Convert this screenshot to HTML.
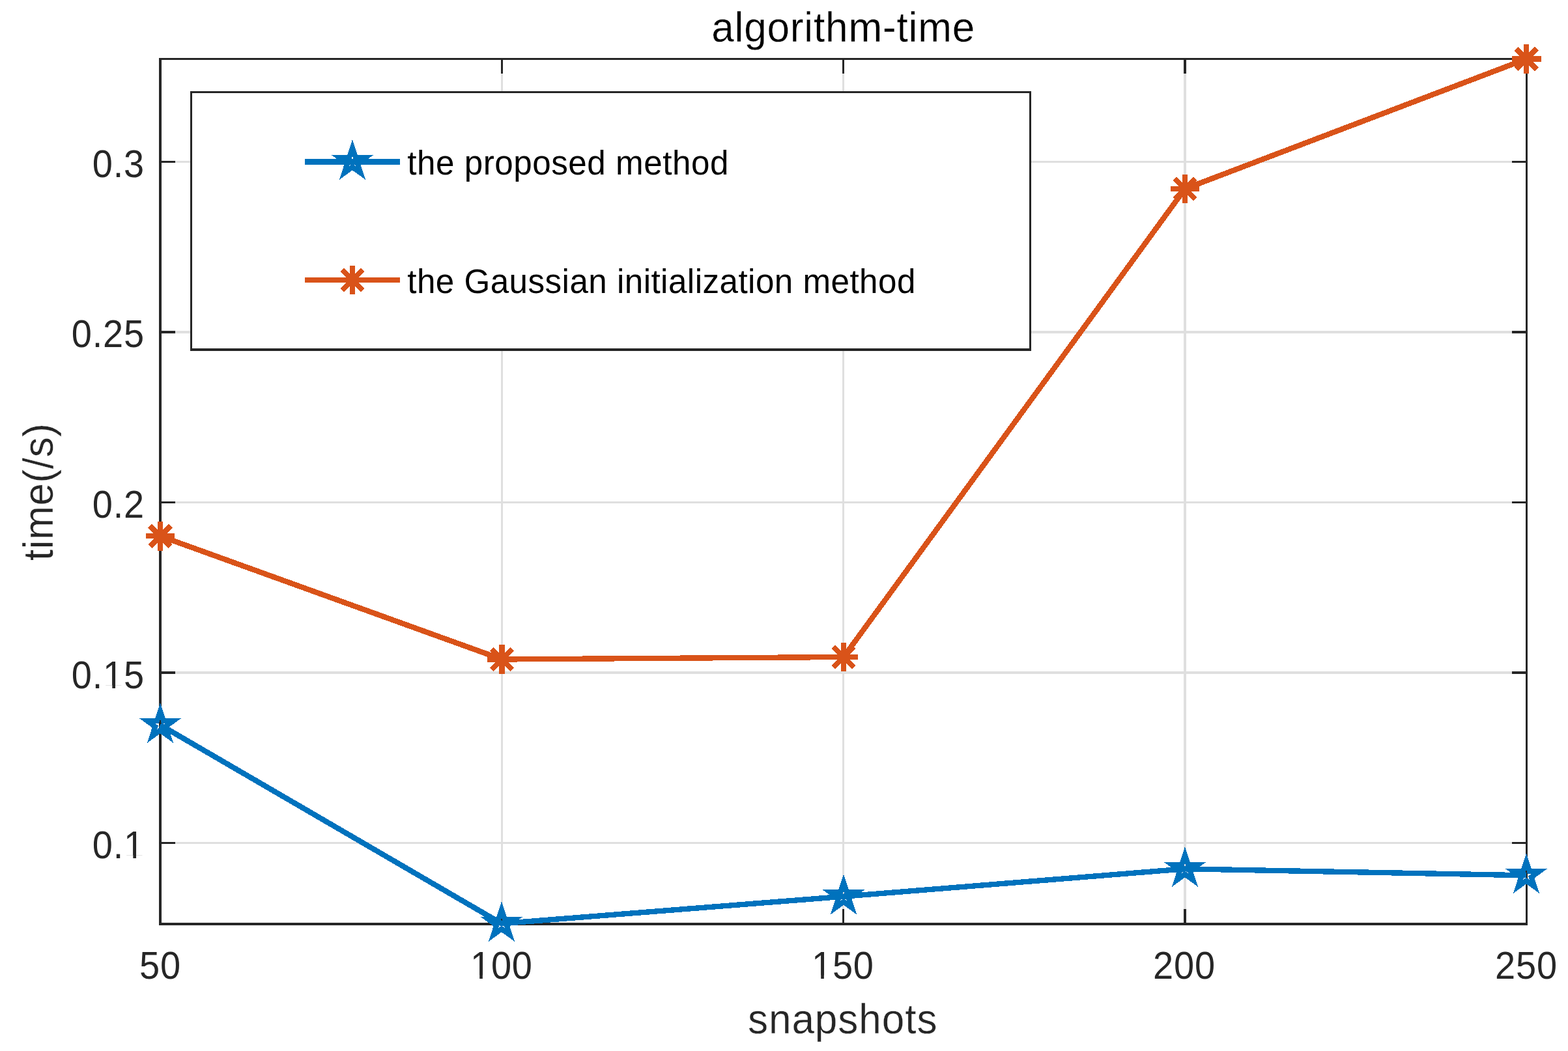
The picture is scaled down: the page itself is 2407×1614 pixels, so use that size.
<!DOCTYPE html>
<html lang="en"><head><meta charset="utf-8"><title>algorithm-time</title>
<style>html,body{margin:0;padding:0;background:#fff}body{width:2407px;height:1614px;overflow:hidden}svg{display:block}text{font-family:"Liberation Sans",sans-serif}</style></head><body>
<svg width="2407" height="1614" viewBox="0 0 2407 1614">
<rect width="2407" height="1614" fill="#fff"/>
<defs><clipPath id="cy0_15" clipPathUnits="userSpaceOnUse"><path clip-rule="evenodd" d="M-20 -80H400V40H-20Z M53.18 -4.96H65.15V3.00H53.18Z M70.00 -4.96H81.37V3.00H70.00Z"/></clipPath><clipPath id="cy0_1" clipPathUnits="userSpaceOnUse"><path clip-rule="evenodd" d="M-20 -80H400V40H-20Z M53.18 -4.96H65.15V3.00H53.18Z M70.00 -4.96H81.37V3.00H70.00Z"/></clipPath><clipPath id="cx100" clipPathUnits="userSpaceOnUse"><path clip-rule="evenodd" d="M-20 -80H400V40H-20Z M2.85 -4.96H14.82V3.00H2.85Z M19.67 -4.96H31.04V3.00H19.67Z"/></clipPath><clipPath id="cx150" clipPathUnits="userSpaceOnUse"><path clip-rule="evenodd" d="M-20 -80H400V40H-20Z M2.85 -4.96H14.82V3.00H2.85Z M19.67 -4.96H31.04V3.00H19.67Z"/></clipPath></defs>
<g shape-rendering="crispEdges">
<rect x="769" y="92" width="3" height="1325" fill="#dfdfdf"/>
<rect x="1293" y="92" width="3" height="1325" fill="#dfdfdf"/>
<rect x="1817" y="92" width="4" height="1325" fill="#dfdfdf"/>
<rect x="248" y="247" width="2094" height="3" fill="#dfdfdf"/>
<rect x="248" y="508" width="2094" height="4" fill="#dfdfdf"/>
<rect x="248" y="770" width="2094" height="3" fill="#dfdfdf"/>
<rect x="248" y="1031" width="2094" height="4" fill="#dfdfdf"/>
<rect x="248" y="1293" width="2094" height="3" fill="#dfdfdf"/>
<rect x="244" y="89" width="2101" height="3" fill="#262626"/>
<rect x="244" y="1417" width="2101" height="4" fill="#262626"/>
<rect x="244" y="89" width="4" height="1332" fill="#262626"/>
<rect x="2342" y="89" width="3" height="1332" fill="#262626"/>
<rect x="769" y="1396" width="3" height="21" fill="#262626"/>
<rect x="769" y="92" width="3" height="21" fill="#262626"/>
<rect x="1293" y="1396" width="3" height="21" fill="#262626"/>
<rect x="1293" y="92" width="3" height="21" fill="#262626"/>
<rect x="1817" y="1396" width="4" height="21" fill="#262626"/>
<rect x="1817" y="92" width="4" height="21" fill="#262626"/>
<rect x="248" y="247" width="21" height="3" fill="#262626"/>
<rect x="2321" y="247" width="21" height="3" fill="#262626"/>
<rect x="248" y="508" width="21" height="4" fill="#262626"/>
<rect x="2321" y="508" width="21" height="4" fill="#262626"/>
<rect x="248" y="770" width="21" height="3" fill="#262626"/>
<rect x="2321" y="770" width="21" height="3" fill="#262626"/>
<rect x="248" y="1031" width="21" height="4" fill="#262626"/>
<rect x="2321" y="1031" width="21" height="4" fill="#262626"/>
<rect x="248" y="1293" width="21" height="3" fill="#262626"/>
<rect x="2321" y="1293" width="21" height="3" fill="#262626"/>
</g>
<g shape-rendering="crispEdges">
<polyline points="246.00,823.20 770.50,1012.50 1295.00,1009.00 1819.00,290.00 2343.20,90.50" fill="none" stroke="#d95319" stroke-width="8.33" stroke-linejoin="round"/>
<polyline points="246.00,1113.30 770.00,1418.30 1295.00,1376.70 1819.00,1334.30 2343.00,1344.30" fill="none" stroke="#0072bd" stroke-width="8.33" stroke-linejoin="round"/>
<path d="M223.60 823.20 L268.40 823.20 M246.00 800.80 L246.00 845.60 M230.16 807.36 L261.84 839.04 M230.16 839.04 L261.84 807.36" fill="none" stroke="#d95319" stroke-width="8.33" stroke-linecap="butt"/>
<path d="M748.10 1012.50 L792.90 1012.50 M770.50 990.10 L770.50 1034.90 M754.66 996.66 L786.34 1028.34 M754.66 1028.34 L786.34 996.66" fill="none" stroke="#d95319" stroke-width="8.33" stroke-linecap="butt"/>
<path d="M1272.60 1009.00 L1317.40 1009.00 M1295.00 986.60 L1295.00 1031.40 M1279.16 993.16 L1310.84 1024.84 M1279.16 1024.84 L1310.84 993.16" fill="none" stroke="#d95319" stroke-width="8.33" stroke-linecap="butt"/>
<path d="M1796.60 290.00 L1841.40 290.00 M1819.00 267.60 L1819.00 312.40 M1803.16 274.16 L1834.84 305.84 M1803.16 305.84 L1834.84 274.16" fill="none" stroke="#d95319" stroke-width="8.33" stroke-linecap="butt"/>
<path d="M2320.80 90.50 L2365.60 90.50 M2343.20 68.10 L2343.20 112.90 M2327.36 74.66 L2359.04 106.34 M2327.36 106.34 L2359.04 74.66" fill="none" stroke="#d95319" stroke-width="8.33" stroke-linecap="butt"/>
<path d="M246.00 1091.90 L250.80 1106.69 L266.35 1106.69 L253.77 1115.83 L258.58 1130.61 L246.00 1121.47 L233.42 1130.61 L238.23 1115.83 L225.65 1106.69 L241.20 1106.69 Z" fill="none" stroke="#0072bd" stroke-width="8.0" stroke-linejoin="miter" stroke-miterlimit="10"/>
<path d="M770.00 1396.90 L774.80 1411.69 L790.35 1411.69 L777.77 1420.83 L782.58 1435.61 L770.00 1426.47 L757.42 1435.61 L762.23 1420.83 L749.65 1411.69 L765.20 1411.69 Z" fill="none" stroke="#0072bd" stroke-width="8.0" stroke-linejoin="miter" stroke-miterlimit="10"/>
<path d="M1295.00 1355.30 L1299.80 1370.09 L1315.35 1370.09 L1302.77 1379.23 L1307.58 1394.01 L1295.00 1384.87 L1282.42 1394.01 L1287.23 1379.23 L1274.65 1370.09 L1290.20 1370.09 Z" fill="none" stroke="#0072bd" stroke-width="8.0" stroke-linejoin="miter" stroke-miterlimit="10"/>
<path d="M1819.00 1312.90 L1823.80 1327.69 L1839.35 1327.69 L1826.77 1336.83 L1831.58 1351.61 L1819.00 1342.47 L1806.42 1351.61 L1811.23 1336.83 L1798.65 1327.69 L1814.20 1327.69 Z" fill="none" stroke="#0072bd" stroke-width="8.0" stroke-linejoin="miter" stroke-miterlimit="10"/>
<path d="M2343.00 1322.90 L2347.80 1337.69 L2363.35 1337.69 L2350.77 1346.83 L2355.58 1361.61 L2343.00 1352.47 L2330.42 1361.61 L2335.23 1346.83 L2322.65 1337.69 L2338.20 1337.69 Z" fill="none" stroke="#0072bd" stroke-width="8.0" stroke-linejoin="miter" stroke-miterlimit="10"/>
</g>
<g shape-rendering="crispEdges">
<rect x="292" y="140" width="1291" height="399" fill="#262626"/>
<rect x="295" y="143" width="1285" height="392" fill="#fff"/>
<rect x="468" y="244" width="146" height="9" fill="#0072bd"/>
<path d="M541.00 226.90 L545.80 241.69 L561.35 241.69 L548.77 250.83 L553.58 265.61 L541.00 256.47 L528.42 265.61 L533.23 250.83 L520.65 241.69 L536.20 241.69 Z" fill="none" stroke="#0072bd" stroke-width="8.0" stroke-linejoin="miter" stroke-miterlimit="10"/>
<rect x="468" y="426" width="146" height="8" fill="#d95319"/>
<path d="M518.60 430.00 L563.40 430.00 M541.00 407.60 L541.00 452.40 M525.16 414.16 L556.84 445.84 M525.16 445.84 L556.84 414.16" fill="none" stroke="#d95319" stroke-width="8.33" stroke-linecap="butt"/>
</g>
<text transform="translate(625.28 268.00) scale(0.9750 1)" font-size="52.5" letter-spacing="0.540" fill="#000">the proposed method</text>
<text transform="translate(625.28 450.00) scale(0.9750 1)" font-size="52.5" letter-spacing="0.465" fill="#000">the Gaussian initialization method</text>
<text transform="translate(1092.17 64.00) scale(0.9586 1)" font-size="64.8" letter-spacing="0.849" fill="#000" stroke="#fff" stroke-width="0.35" paint-order="fill stroke">algorithm-time</text>
<text transform="translate(141.78 272.20) scale(0.9600 1)" font-size="58.33" letter-spacing="0.841" fill="#262626">0.3</text>
<text transform="translate(109.78 533.20) scale(0.9600 1)" font-size="58.33" letter-spacing="0.841" fill="#262626">0.25</text>
<text transform="translate(141.78 795.20) scale(0.9600 1)" font-size="58.33" letter-spacing="0.841" fill="#262626">0.2</text>
<text transform="translate(109.78 1057.20) scale(0.9600 1)" font-size="58.33" letter-spacing="0.841" fill="#262626" clip-path="url(#cy0_15)">0.15</text>
<text transform="translate(141.78 1318.20) scale(0.9600 1)" font-size="58.33" letter-spacing="0.841" fill="#262626" clip-path="url(#cy0_1)">0.1</text>
<text transform="translate(213.96 1502.50) scale(0.9600 1)" font-size="58.33" letter-spacing="0.841" fill="#262626">50</text>
<text transform="translate(721.97 1502.50) scale(0.9600 1)" font-size="58.33" letter-spacing="0.841" fill="#262626" clip-path="url(#cx100)">100</text>
<text transform="translate(1245.97 1502.50) scale(0.9600 1)" font-size="58.33" letter-spacing="0.841" fill="#262626" clip-path="url(#cx150)">150</text>
<text transform="translate(1770.02 1502.50) scale(0.9600 1)" font-size="58.33" letter-spacing="0.841" fill="#262626">200</text>
<text transform="translate(2295.02 1502.50) scale(0.9600 1)" font-size="58.33" letter-spacing="0.841" fill="#262626">250</text>
<text transform="translate(1147.89 1587.00) scale(0.9586 1)" font-size="64.8" letter-spacing="0.987" fill="#262626" stroke="#fff" stroke-width="0.35" paint-order="fill stroke">snapshots</text>
<text transform="translate(81.00 861.05) rotate(-90) scale(0.9586 1)" font-size="64.8" letter-spacing="0.597" fill="#262626" stroke="#fff" stroke-width="0.35" paint-order="fill stroke">time(/s)</text>
</svg></body></html>
